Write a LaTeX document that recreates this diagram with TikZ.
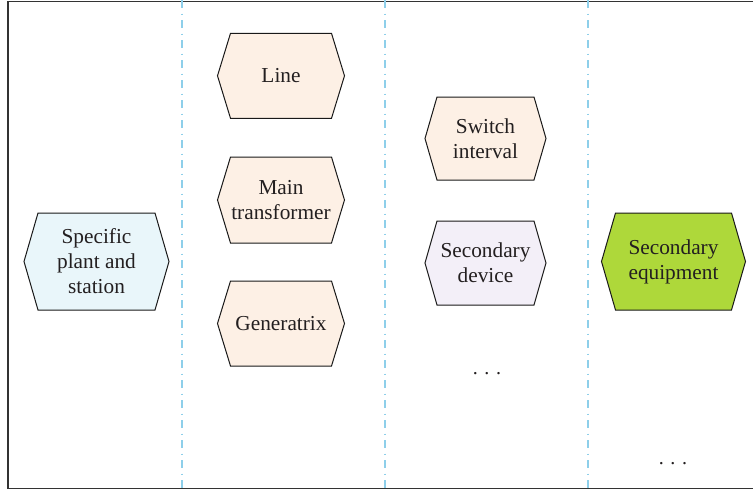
\documentclass[tikz,border=0pt]{standalone}
\usepackage{fontspec}
\setmainfont{Liberation Serif}
\usetikzlibrary{calc}
\definecolor{framegray}{HTML}{333333}
\definecolor{sepblue}{HTML}{8ECFEA}
\definecolor{txt}{HTML}{231F20}
\definecolor{plantfill}{HTML}{E9F6FA}
\definecolor{peach}{HTML}{FDF0E5}
\definecolor{lavender}{HTML}{F3EFF8}
\definecolor{lime}{HTML}{AED83A}

\tikzset{
  hexline/.style={draw=black!90, line width=1pt, line join=miter},
  hextext/.style={align=center, text=txt, inner sep=0pt,
    font=\fontsize{21.3}{25}\selectfont},
  sepline/.style={draw=sepblue, line width=1.1pt,
    dash pattern=on 8pt off 5.5pt on 1pt off 5.5pt},
  dotstext/.style={text=txt, font=\fontsize{20}{22}\selectfont, inner sep=0pt},
}

% hexagon with pointed left and right ends, text node on top
% #1 name, #2 cx, #3 cy, #4 width, #5 height, #6 inset, #7 fill, #8 text
\newcommand{\hexbox}[8]{%
  \path[hexline, fill=#7]
    ({#2-#4/2},#3) -- ({#2-#4/2+#6},{#3-#5/2}) -- ({#2+#4/2-#6},{#3-#5/2})
    -- ({#2+#4/2},#3) -- ({#2+#4/2-#6},{#3+#5/2}) -- ({#2-#4/2+#6},{#3+#5/2}) -- cycle;
  \node[hextext] (#1) at (#2,#3) {#8};
}

\begin{document}
\begin{tikzpicture}[x=1pt, y=-1pt]
  \useasboundingbox (0,0) rectangle (753,490);
  \fill[white] (0,0) rectangle (753,490);

  % outer frame (right side runs past the edge)
  \draw[framegray, line width=1.8pt] (760,1.5) -- (8.3,1.5) -- (8.3,488.5) -- (760,488.5);

  % column separators
  \coordinate (s1t) at (182,0);   \coordinate (s1b) at (182,488);
  \coordinate (s2t) at (385,0);   \coordinate (s2b) at (385,488);
  \coordinate (s3t) at (588,0);   \coordinate (s3b) at (588,488);
  \draw[sepline] (s1t) -- (s1b);
  \draw[sepline] (s2t) -- (s2b);
  \draw[sepline] (s3t) -- (s3b);

  % first column
  \hexbox{plant}{96.5}{261.5}{145}{97}{14}{plantfill}{Specific\\plant and\\station}

  % second column
  \hexbox{line}{281}{75.8}{127}{85}{13}{peach}{Line}
  \hexbox{maintr}{281}{200}{127}{86}{13}{peach}{Main\\transformer}
  \hexbox{gen}{281}{323.5}{127}{85}{13}{peach}{Generatrix}

  % third column
  \hexbox{switch}{485.5}{138.5}{121}{83}{12}{peach}{Switch\\interval}
  \hexbox{secdev}{485.5}{263}{121}{84}{12}{lavender}{Secondary\\device}
  \node[dotstext] (more1) at (487,374) {.\,\,.\,\,.};

  % fourth column
  \hexbox{equip}{673.5}{261.5}{144}{97}{14}{lime}{Secondary\\equipment}
  \node[dotstext] (more2) at (673,464) {.\,\,.\,\,.};
\end{tikzpicture}
\end{document}
